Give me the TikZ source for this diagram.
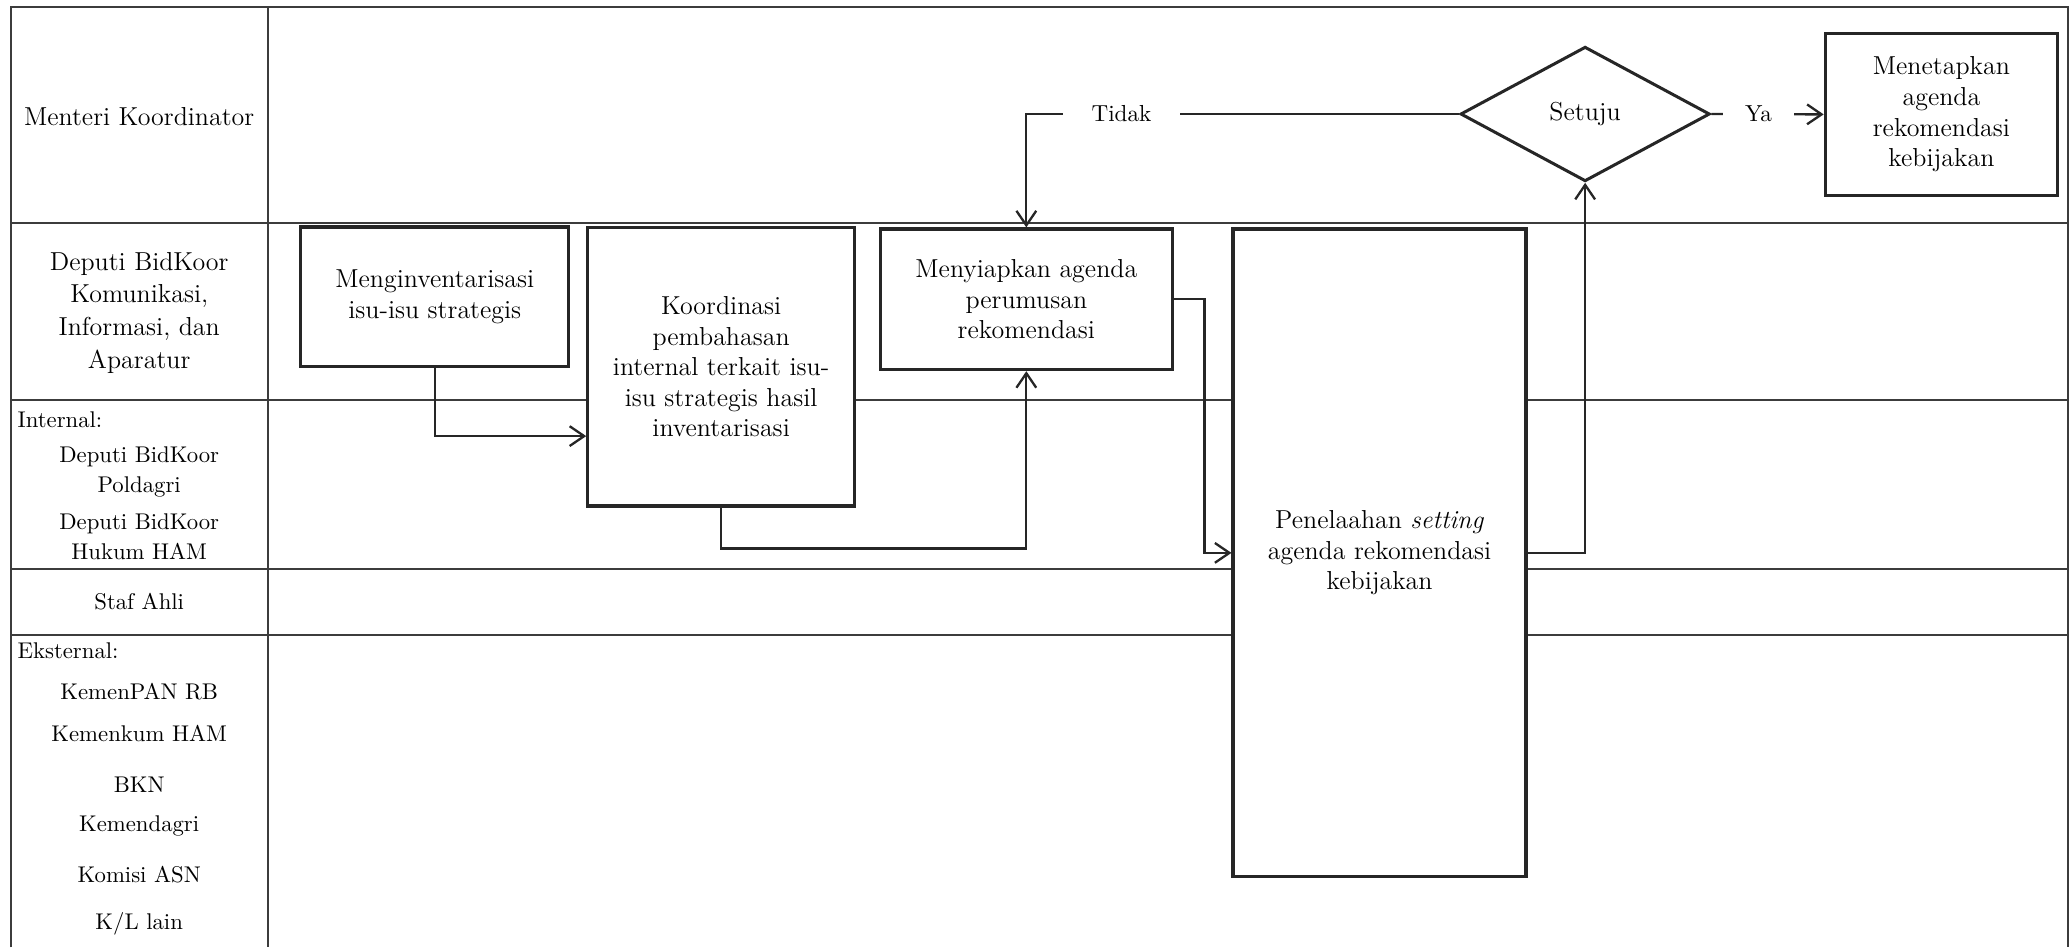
\documentclass[tikz,border=0pt]{standalone}
\usepackage{tikz}
\usetikzlibrary{positioning,arrows.meta,shapes.geometric}
\definecolor{laneline}{HTML}{3C3C3C}
\definecolor{boxline}{HTML}{262626}
\tikzset{
  lane/.style     = {draw=laneline, line width=0.9pt},
  lanehead/.style = {align=center, inner sep=0pt, font=\fontsize{11.2}{14.1}\selectfont},
  member/.style   = {align=center, inner sep=0pt, font=\fontsize{9.8}{12.9}\selectfont},
  task/.style     = {draw=boxline, line width=1.4pt, fill=white, align=center,
                     inner sep=3pt, font=\fontsize{11.2}{13.2}\selectfont},
  decision/.style = {diamond, draw=boxline, line width=1.3pt, fill=white, inner sep=0pt,
                     minimum width=37.8mm, minimum height=20.4mm,
                     font=\fontsize{11.2}{13.2}\selectfont},
  flow/.style     = {-{Straight Barb[length=2.2mm, width=3mm]}, draw=boxline, line width=1pt},
  answer/.style   = {fill=white, inner ysep=1pt, font=\fontsize{10}{12}\selectfont},
}

\begin{document}
\begin{tikzpicture}[x=0.2mm, y=-0.2mm]
  \useasboundingbox (0,0) rectangle (1568,718);

  % swimlanes
  \draw[lane] (8,718) -- (8,5) -- (1567,5) -- (1567,718);
  \draw[lane] (203,5) -- (203,718);
  \draw[lane] (8,169) -- (1567,169);
  \draw[lane] (8,303) -- (1567,303);
  \draw[lane] (8,431) -- (1567,431);
  \draw[lane] (8,481) -- (1567,481);

  \node[lanehead] (mk) at (105.5,88) {Menteri Koordinator};
  \node[lanehead] (dep) at (105.5,237) {Deputi BidKoor\\ Komunikasi,\\ Informasi, dan\\ Aparatur};
  \node[member, anchor=west] (intl) at (13,318) {Internal:};
  \node[member] (pold) at (105.5,358) {Deputi BidKoor\\ Poldagri};
  \node[member] (hkm) at (105.5,407) {Deputi BidKoor\\ Hukum HAM};
  \node[member] (staf) at (105.5,456) {Staf Ahli};
  \node[member, anchor=west] (ekst) at (13,493) {Eksternal:};
  \node[member] (pan) at (105.5,524) {KemenPAN RB};
  \node[member] (kum) at (105.5,556) {Kemenkum HAM};
  \node[member] (bkn) at (105.5,595) {BKN};
  \node[member] (dagri) at (105.5,626) {Kemendagri};
  \node[member] (kasn) at (105.5,663) {Komisi ASN};
  \node[member] (kl) at (105.5,700) {K/L lain};

  % process
  \node[task, minimum width=40.6mm, minimum height=21.2mm] (inv) at (329.5,225)
       {Menginventarisasi\\ isu-isu strategis};
  \node[task, minimum width=40.4mm, minimum height=42.2mm] (koor) at (546.5,278)
       {Koordinasi\\ pembahasan\\ internal terkait isu-\\ isu strategis hasil\\ inventarisasi};
  \node[task, minimum width=44.3mm, minimum height=21.3mm] (siap) at (777.8,226.8)
       {Menyiapkan agenda\\ perumusan\\ rekomendasi};
  \node[task, minimum width=44.4mm, minimum height=98.2mm] (telaah) at (1045.5,419)
       {Penelaahan \textit{setting}\\ agenda rekomendasi\\ kebijakan};
  \node[decision] (setuju) at (1201.3,86.4) {Setuju};
  \node[task, minimum width=35.2mm, minimum height=24.5mm] (tetap) at (1471.3,86.7)
       {Menetapkan\\ agenda\\ rekomendasi\\ kebijakan};

  \draw[flow] (inv.south) |- ([yshift=-10.5mm]koor.west);
  \draw[flow] (koor.south) -- ++(0,31) -| (siap.south);
  \draw[flow] (siap.east) -- ++(23,0) |- (telaah.west);
  \draw[flow] (telaah.east) -| (setuju.south);
  \draw[flow] (setuju.west) -| node[answer, pos=0.39, inner xsep=4.4mm] (tidak) {Tidak} (siap.north);
  \draw[flow] (setuju.east) -- node[answer, pos=0.42, inner xsep=3.4mm] (ya) {Ya} (tetap.west);
\end{tikzpicture}
\end{document}
